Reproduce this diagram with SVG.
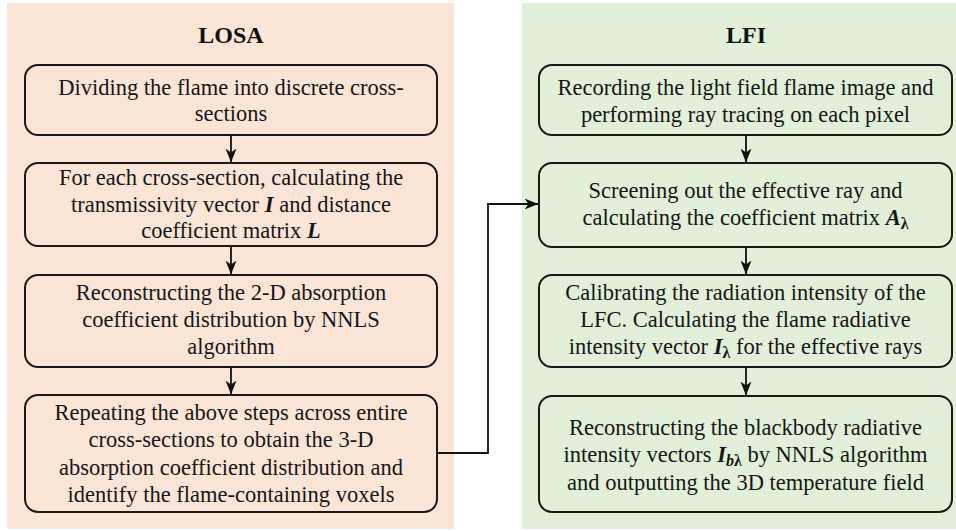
<svg xmlns="http://www.w3.org/2000/svg" width="956" height="531" viewBox="0 0 956 531">
  <defs>
    <marker id="arrow" viewBox="0 0 14 12" refX="13.5" refY="6" markerWidth="14" markerHeight="12" markerUnits="userSpaceOnUse" orient="auto">
      <path d="M0,0.5 L14,6 L0,11.5 L4,6 Z" fill="#111"/>
    </marker>
  </defs>
  <style>
    .panel-losa { fill: #FBE5D6; }
    .panel-lfi { fill: #E2F0D9; }
    .box { fill: none; stroke: #1a1a1a; stroke-width: 2; }
    .title { font-family: "Liberation Serif", "Times New Roman", serif; font-size: 24px; font-weight: bold; fill: #111; text-anchor: middle; }
    .txt { font-family: "Liberation Serif", "Times New Roman", serif; font-size: 22.5px; fill: #161616; text-anchor: middle; }
    .m { font-weight: bold; font-style: italic; }
    .s { font-size: 16px; font-weight: bold; }
    .link { fill: none; stroke: #111; stroke-width: 1.8; }
  </style>

  <!-- background panels -->
  <rect class="panel-losa" x="7" y="3" width="447" height="526"/>
  <rect class="panel-lfi" x="522" y="3" width="434" height="526"/>
  <text class="title" x="231" y="43">LOSA</text>
  <text class="title" x="746" y="43">LFI</text>

  <!-- LOSA steps -->
  <g id="losa-1">
    <rect class="box" x="25" y="65" width="412" height="70" rx="13"/>
    <text class="txt" x="231" y="95">Dividing the flame into discrete cross-</text>
    <text class="txt" x="231" y="121">sections</text>
  </g>
  <g id="losa-2">
    <rect class="box" x="25" y="163" width="412" height="83" rx="13"/>
    <text class="txt" x="231" y="185">For each cross-section, calculating the</text>
    <text class="txt" x="231" y="212">transmissivity vector <tspan class="m">I</tspan> and distance</text>
    <text class="txt" x="231" y="238">coefficient matrix <tspan class="m">L</tspan></text>
  </g>
  <g id="losa-3">
    <rect class="box" x="25" y="275" width="412" height="92" rx="13"/>
    <text class="txt" x="231" y="300">Reconstructing the 2-D absorption</text>
    <text class="txt" x="231" y="327">coefficient distribution by NNLS</text>
    <text class="txt" x="231" y="354">algorithm</text>
  </g>
  <g id="losa-4">
    <rect class="box" x="25" y="395" width="412" height="117" rx="13"/>
    <text class="txt" x="231" y="420">Repeating the above steps across entire</text>
    <text class="txt" x="231" y="447">cross-sections to obtain the 3-D</text>
    <text class="txt" x="231" y="475">absorption coefficient distribution and</text>
    <text class="txt" x="231" y="502">identify the flame-containing voxels</text>
  </g>

  <!-- LFI steps -->
  <g id="lfi-1">
    <rect class="box" x="539" y="65" width="413" height="70" rx="13"/>
    <text class="txt" x="745.5" y="95">Recording the light field flame image and</text>
    <text class="txt" x="745.5" y="122">performing ray tracing on each pixel</text>
  </g>
  <g id="lfi-2">
    <rect class="box" x="539" y="163" width="413" height="84" rx="13"/>
    <text class="txt" x="745.5" y="198">Screening out the effective ray and</text>
    <text class="txt" x="745.5" y="225">calculating the coefficient matrix <tspan class="m">A</tspan><tspan class="s" dy="4">λ</tspan></text>
  </g>
  <g id="lfi-3">
    <rect class="box" x="539" y="275" width="413" height="92" rx="13"/>
    <text class="txt" x="745.5" y="300">Calibrating the radiation intensity of the</text>
    <text class="txt" x="745.5" y="327">LFC. Calculating the flame radiative</text>
    <text class="txt" x="745.5" y="354">intensity vector <tspan class="m">I</tspan><tspan class="s" dy="4">λ</tspan><tspan dy="-4"> for the effective rays</tspan></text>
  </g>
  <g id="lfi-4">
    <rect class="box" x="539" y="396" width="413" height="116" rx="13"/>
    <text class="txt" x="745.5" y="435">Reconstructing the blackbody radiative</text>
    <text class="txt" x="745.5" y="462">intensity vectors <tspan class="m">I</tspan><tspan class="s" dy="4"><tspan font-style="italic">b</tspan>λ</tspan><tspan dy="-4"> by NNLS algorithm</tspan></text>
    <text class="txt" x="745.5" y="490">and outputting the 3D temperature field</text>
  </g>

  <!-- connectors -->
  <g id="connectors">
    <line class="link" x1="231" y1="135" x2="231" y2="162" marker-end="url(#arrow)"/>
    <line class="link" x1="231" y1="246" x2="231" y2="274" marker-end="url(#arrow)"/>
    <line class="link" x1="231" y1="367" x2="231" y2="394" marker-end="url(#arrow)"/>
    <line class="link" x1="746" y1="135" x2="746" y2="162" marker-end="url(#arrow)"/>
    <line class="link" x1="746" y1="247" x2="746" y2="274" marker-end="url(#arrow)"/>
    <line class="link" x1="746" y1="367" x2="746" y2="395" marker-end="url(#arrow)"/>
    <polyline class="link" points="437,453 488,453 488,204 538,204" marker-end="url(#arrow)"/>
  </g>
</svg>
